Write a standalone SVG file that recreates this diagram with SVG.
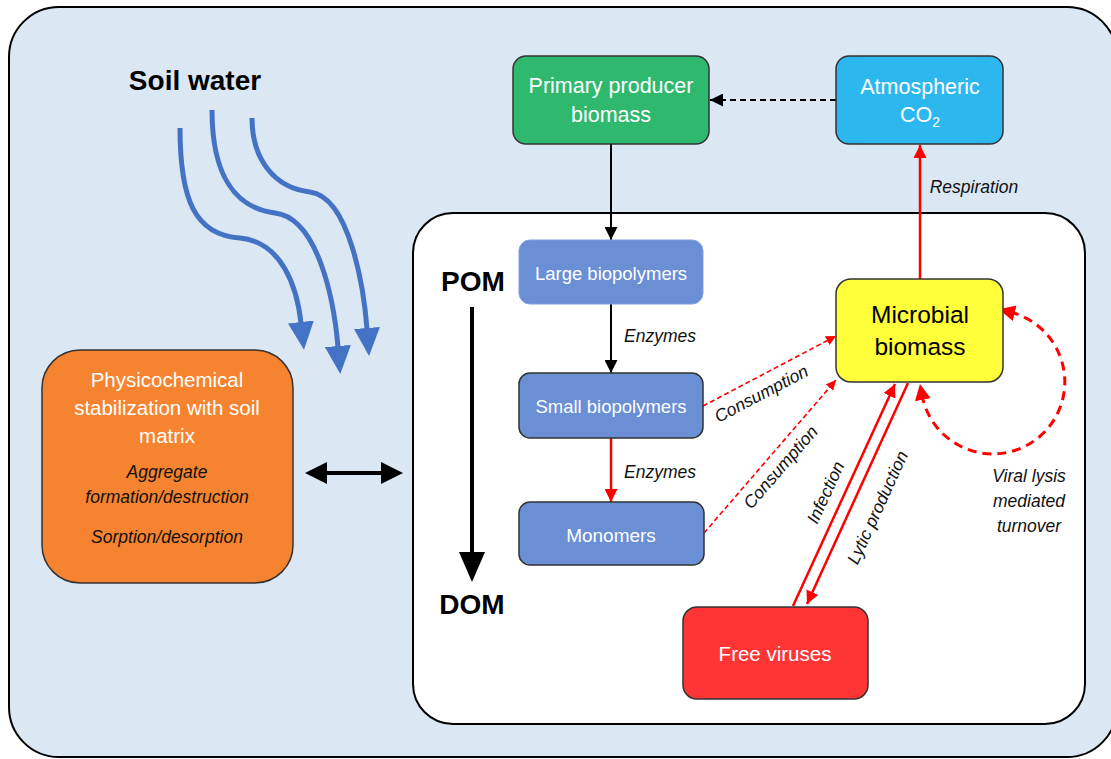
<svg xmlns="http://www.w3.org/2000/svg" width="1111" height="759" viewBox="0 0 1111 759">
<defs>
<style>
.box{stroke:#333;stroke-width:1.5}
.wt{font-family:"Liberation Sans",Arial,sans-serif;fill:#fff;text-anchor:middle}
.bt{font-family:"Liberation Sans",Arial,sans-serif;fill:#000;text-anchor:middle}
.it{font-family:"Liberation Sans",Arial,sans-serif;fill:#111;font-style:italic;font-size:17.5px;text-anchor:middle}
.big{font-family:"Liberation Sans",Arial,sans-serif;font-weight:bold;fill:#000;font-size:28px;text-anchor:middle}
.blk{stroke:#000;stroke-width:2;fill:none}
.red{stroke:#ff0000;stroke-width:2.5;fill:none}
.redd{stroke:#ff0000;stroke-width:1.6;fill:none;stroke-dasharray:5 3}
.water{stroke:#4472c4;stroke-width:5;fill:none}
</style>
<marker id="ab" markerUnits="userSpaceOnUse" markerWidth="13" markerHeight="13" viewBox="0 0 10 10" refX="10" refY="5" orient="auto"><path d="M0,0 L10,5 L0,10 z" fill="#000"/></marker>
<marker id="ar" markerUnits="userSpaceOnUse" markerWidth="13" markerHeight="13" viewBox="0 0 10 10" refX="10" refY="5" orient="auto"><path d="M0,0 L10,5 L0,10 z" fill="#ff0000"/></marker>
<marker id="ars" markerUnits="userSpaceOnUse" markerWidth="10" markerHeight="10" viewBox="0 0 10 10" refX="10" refY="5" orient="auto"><path d="M0,0 L10,5 L0,10 z" fill="#ff0000"/></marker>
<marker id="arl" markerUnits="userSpaceOnUse" markerWidth="16" markerHeight="16" viewBox="0 0 10 10" refX="3" refY="5" orient="auto-start-reverse"><path d="M0,0 L10,5 L0,10 z" fill="#ff0000"/></marker>
<marker id="aw" markerUnits="userSpaceOnUse" markerWidth="28" markerHeight="26" viewBox="0 0 28 26" refX="1" refY="13" orient="auto"><path d="M0,0 L28,13 L0,26 z" fill="#4472c4"/></marker>
<marker id="abig" markerUnits="userSpaceOnUse" markerWidth="30" markerHeight="26" viewBox="0 0 30 26" refX="1" refY="13" orient="auto-start-reverse"><path d="M0,0 L30,13 L0,26 z" fill="#000"/></marker>
<marker id="abd" markerUnits="userSpaceOnUse" markerWidth="22" markerHeight="22" viewBox="0 0 22 22" refX="1" refY="11" orient="auto-start-reverse"><path d="M0,0 L22,11 L0,22 z" fill="#000"/></marker>
</defs>

<g id="soil">
<rect x="9" y="7" width="1108" height="750" rx="50" fill="#dce7f4" stroke="#000" stroke-width="2"/>
</g>
<g id="microsite">
<rect x="413" y="213" width="672" height="511" rx="40" fill="#fff" stroke="#000" stroke-width="2"/>
</g>

<g id="soil-water">
<text class="big" x="195" y="90">Soil water</text>
<path class="water" d="M180 128 C180 200 195 235 240 238 C282 242 297 287 301 323" marker-end="url(#aw)"/>
<path class="water" d="M212 110 C212 175 235 208 275 213 C318 218 334 300 338 347" marker-end="url(#aw)"/>
<path class="water" d="M252 118 C252 160 275 188 310 192 C350 197 364 290 367 329" marker-end="url(#aw)"/>
</g>

<g id="connectors">
<path class="blk" d="M836 100 L710 100" stroke-dasharray="6 4" marker-end="url(#ab)"/>
<path class="blk" d="M611 144 L611 240" marker-end="url(#ab)"/>
<path class="blk" d="M611 304 L611 373" marker-end="url(#ab)"/>
<path class="red" d="M611 438 L611 502" marker-end="url(#ar)"/>
<path class="red" d="M920 279 L920 145" marker-end="url(#ar)"/>
<path class="redd" d="M703 406 L836 336" marker-end="url(#ars)"/>
<path class="redd" d="M704 533 L836 380" marker-end="url(#ars)"/>
<path class="red" d="M793 606 L895 384" marker-end="url(#ar)"/>
<path class="red" d="M908 383 L807 604" marker-end="url(#ar)"/>
<path d="M1010 312 A72 72 0 1 1 922 395" fill="none" stroke="#ff0000" stroke-width="3" stroke-dasharray="9 6" marker-start="url(#arl)" marker-end="url(#arl)"/>
<path d="M472 307 L472 553" stroke="#000" stroke-width="4" marker-end="url(#abig)"/>
<path d="M326 473 L382 473" stroke="#000" stroke-width="4" marker-start="url(#abd)" marker-end="url(#abd)"/>
</g>

<g id="labels">
<text class="it" x="660" y="342">Enzymes</text>
<text class="it" x="660" y="478">Enzymes</text>
<text class="it" x="974" y="193" font-size="18">Respiration</text>
<text class="it" transform="translate(764 399) rotate(-27.8)" font-size="18.5">Consumption</text>
<text class="it" transform="translate(785 471) rotate(-49)" font-size="18.5">Consumption</text>
<text class="it" transform="translate(831 495) rotate(-65.4)" font-size="18.5">Infection</text>
<text class="it" transform="translate(883 510) rotate(-65.4)" font-size="18.5">Lytic production</text>
<text class="it" x="1029" y="482" font-size="18.5">Viral lysis</text>
<text class="it" x="1029" y="507" font-size="18.5">mediated</text>
<text class="it" x="1029" y="532" font-size="18.5">turnover</text>
<text class="big" x="473" y="291">POM</text>
<text class="big" x="472" y="614">DOM</text>
</g>

<g id="primary-producer">
<rect class="box" x="513" y="56" width="196" height="88" rx="13" fill="#2fb96e"/>
<text class="wt" x="611" y="93" font-size="21.5">Primary producer</text>
<text class="wt" x="611" y="122" font-size="21.5">biomass</text>
</g>
<g id="atmospheric-co2">
<rect class="box" x="836" y="56" width="167" height="88" rx="13" fill="#2db7ef"/>
<text class="wt" x="920" y="94" font-size="21.5">Atmospheric</text>
<text class="wt" x="920" y="122" font-size="21.5">CO<tspan font-size="14" dy="5">2</tspan></text>
</g>
<g id="large-biopolymers">
<rect x="519" y="240" width="184" height="64" rx="11" fill="#6a8fd5" stroke="#7f9fe0" stroke-width="1"/>
<text class="wt" x="611" y="280" font-size="18.5">Large biopolymers</text>
</g>
<g id="small-biopolymers">
<rect class="box" x="519" y="373" width="184" height="65" rx="11" fill="#6a8fd5" stroke="#2c3e66"/>
<text class="wt" x="611" y="413" font-size="18.5">Small biopolymers</text>
</g>
<g id="monomers">
<rect class="box" x="519" y="502" width="185" height="63" rx="11" fill="#6a8fd5" stroke="#2c3e66"/>
<text class="wt" x="611" y="542" font-size="19">Monomers</text>
</g>
<g id="microbial-biomass">
<rect class="box" x="836" y="279" width="167" height="103" rx="15" fill="#ffff3a"/>
<text class="bt" x="920" y="323" font-size="24.5">Microbial</text>
<text class="bt" x="920" y="355" font-size="24.5">biomass</text>
</g>
<g id="free-viruses">
<rect class="box" x="683" y="607" width="185" height="92" rx="14" fill="#ff3535"/>
<text class="wt" x="775" y="661" font-size="20.5">Free viruses</text>
</g>
<g id="physicochemical">
<rect class="box" x="42" y="350" width="251" height="233" rx="38" fill="#f6832f"/>
<text class="wt" x="167" y="387" font-size="20.5">Physicochemical</text>
<text class="wt" x="167" y="415" font-size="20.5">stabilization with soil</text>
<text class="wt" x="167" y="443" font-size="20.5">matrix</text>
<text class="it" x="167" y="478" font-size="19">Aggregate</text>
<text class="it" x="167" y="503" font-size="19">formation/destruction</text>
<text class="it" x="167" y="543" font-size="19">Sorption/desorption</text>
</g>
</svg>
